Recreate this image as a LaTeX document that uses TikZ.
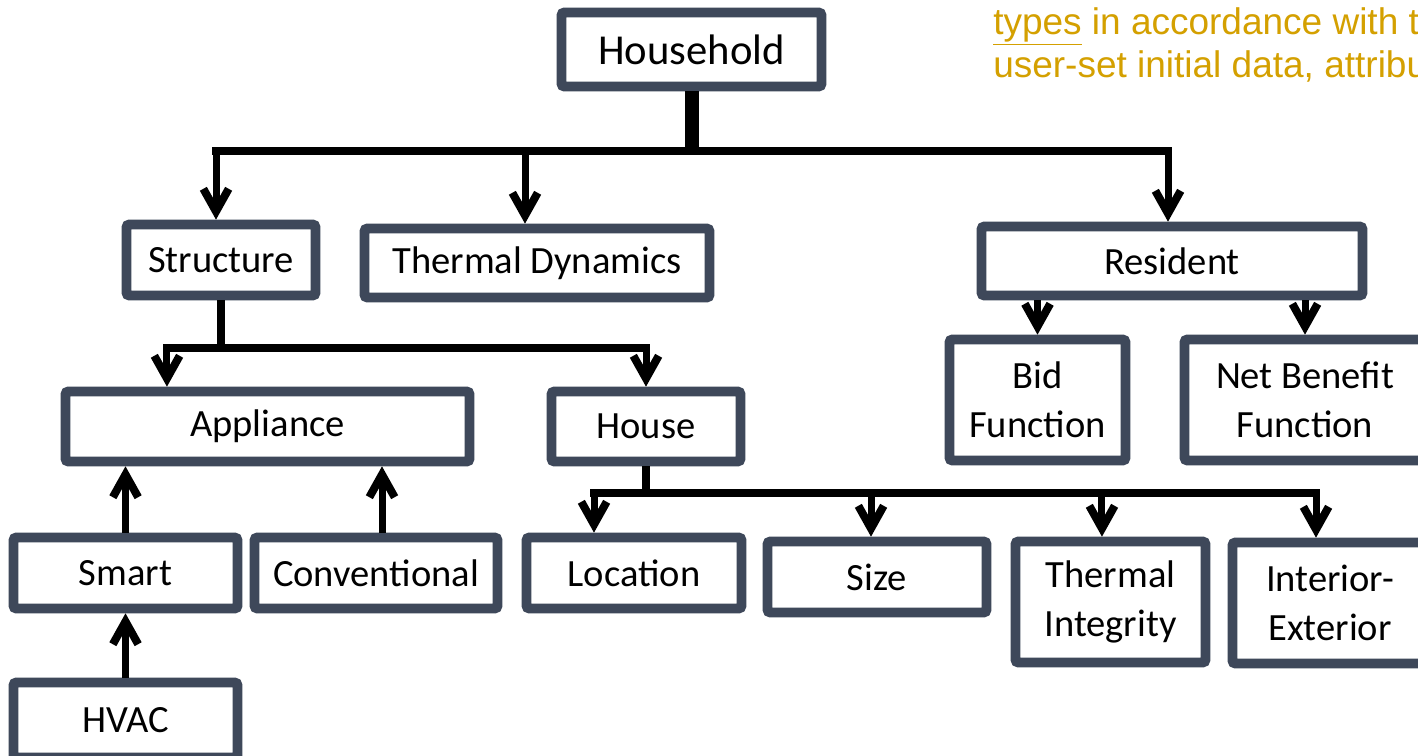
\documentclass[tikz,border=0pt]{standalone}
\usepackage{fontspec}
\setmainfont{Carlito}
\newfontfamily\arialf{Liberation Sans}
\usetikzlibrary{arrows.meta}
\definecolor{boxc}{RGB}{62,72,90}
\definecolor{goldc}{RGB}{212,160,0}
\begin{document}
\begin{tikzpicture}[x=0.75pt,y=-0.75pt,
  bx/.style={draw=boxc, line width=7.25pt, fill=white, rounded corners=2pt, inner sep=0pt, align=center,
    font=\fontsize{28.9pt}{36.75pt}\selectfont},
  arr/.style={line width=5.25pt, -{Straight Barb[length=17pt,width=19pt,line width=6pt]}},
  bar/.style={line width=6.5pt, line cap=rect},
  stem/.style={line width=6.5pt},
  note/.style={anchor=base west, inner sep=0pt, text=goldc, font=\arialf\fontsize{27.75pt}{32.25pt}\selectfont}
]
\useasboundingbox (0,0) rectangle (1418,756);
\fill[white] (0,0) rectangle (1418,756);
\clip (0,0) rectangle (1418,756);

% boxes
\node[bx, minimum width=195pt, minimum height=55.5pt, font=\fontsize{32pt}{38pt}\selectfont] (hh) at (691.5,49.5) {Household};
\node[bx, minimum width=141.75pt, minimum height=53.25pt] (st) at (221,260) {Structure};
\node[bx, minimum width=258.75pt, minimum height=51.75pt] (td) at (537,263) {Thermal Dynamics};
\node[bx, minimum width=285.75pt, minimum height=51.75pt] (rs) at (1172,261) {Resident};
\node[bx, minimum width=303pt, minimum height=52.5pt] (ap) at (267.5,426.5) {Appliance};
\node[bx, minimum width=141.75pt, minimum height=52.5pt] (ho) at (646,426.5) {House};
\node[bx, minimum width=132pt, minimum height=90.75pt] (bf) at (1037.5,400) {Bid\\Function};
\node[bx, minimum width=180.75pt, minimum height=90.75pt] (nb) at (1305,400) {Net Benefit\\Function};
\node[bx, minimum width=168pt, minimum height=53.25pt] (sm) at (125.5,573) {Smart};
\node[bx, minimum width=182.25pt, minimum height=53.25pt] (cv) at (376,573) {Conventional};
\node[bx, minimum width=168pt, minimum height=56.25pt] (hv) at (125.5,720) {HVAC};
\node[bx, minimum width=161.25pt, minimum height=53.25pt] (lo) at (634,573) {Location};
\node[bx, minimum width=164.25pt, minimum height=53.25pt] (sz) at (877,577) {Size};
\node[bx, minimum width=142.5pt, minimum height=90.75pt] (ti) at (1110.5,602) {Thermal\\Integrity};
\node[bx, minimum width=146.25pt, minimum height=90.75pt] (ie) at (1330,603) {Interior-\\Exterior};

% Household -> children
\coordinate (hb) at (691,151);
\draw[line width=10.5pt] (hh.south) -- (hh.south |- hb);
\draw[bar] ([xshift=-3.75pt]st.north |- hb) -- ([xshift=-3pt]rs.north |- hb);
\draw[arr] ([xshift=-3.75pt]st.north |- hb) -- ([xshift=-3.75pt]st.north);
\draw[arr] ([xshift=-9pt]td.north |- hb) -- ([xshift=-9pt]td.north);
\draw[arr] ([xshift=-3pt]rs.north |- hb) -- ([xshift=-3pt]rs.north);

% Structure -> children
\coordinate (sb) at (222,348);
\draw[stem] (st.south) -- (st.south |- sb);
\draw[bar] ([xshift=-75.4pt]ap.north |- sb) -- (ho.north |- sb);
\draw[arr] ([xshift=-75.4pt]ap.north |- sb) -- ([xshift=-75.4pt]ap.north);
\draw[arr] (ho.north |- sb) -- (ho.north);

% Resident -> children
\draw[arr] (rs.south -| bf.north) -- (bf.north);
\draw[arr] (rs.south -| nb.north) -- (nb.north);

% Appliance types
\draw[arr] (sm.north) -- (sm.north |- ap.south);
\draw[arr] ([xshift=4.5pt]cv.north) -- ([xshift=4.5pt]cv.north |- ap.south);
\draw[arr] (hv.north) -- (hv.north |- sm.south);

% House -> children
\coordinate (hob) at (647,493);
\draw[stem] (ho.south) -- (ho.south |- hob);
\draw[bar] ([xshift=-30pt]lo.north |- hob) -- ([xshift=-10.5pt]ie.north |- hob);
\draw[arr] ([xshift=-30pt]lo.north |- hob) -- ([xshift=-30pt]lo.north);
\draw[arr] ([xshift=-4.5pt]sz.north |- hob) -- ([xshift=-4.5pt]sz.north);
\draw[arr] ([xshift=-6.4pt]ti.north |- hob) -- ([xshift=-6.4pt]ti.north);
\draw[arr] ([xshift=-10.5pt]ie.north |- hob) -- ([xshift=-10.5pt]ie.north);

% note text
\node[note] (n1) at (993,35) {\underline{types} in accordance with t};
\node[note] (n2) at (993,78) {user-set initial data, attribu};
\end{tikzpicture}
\end{document}
